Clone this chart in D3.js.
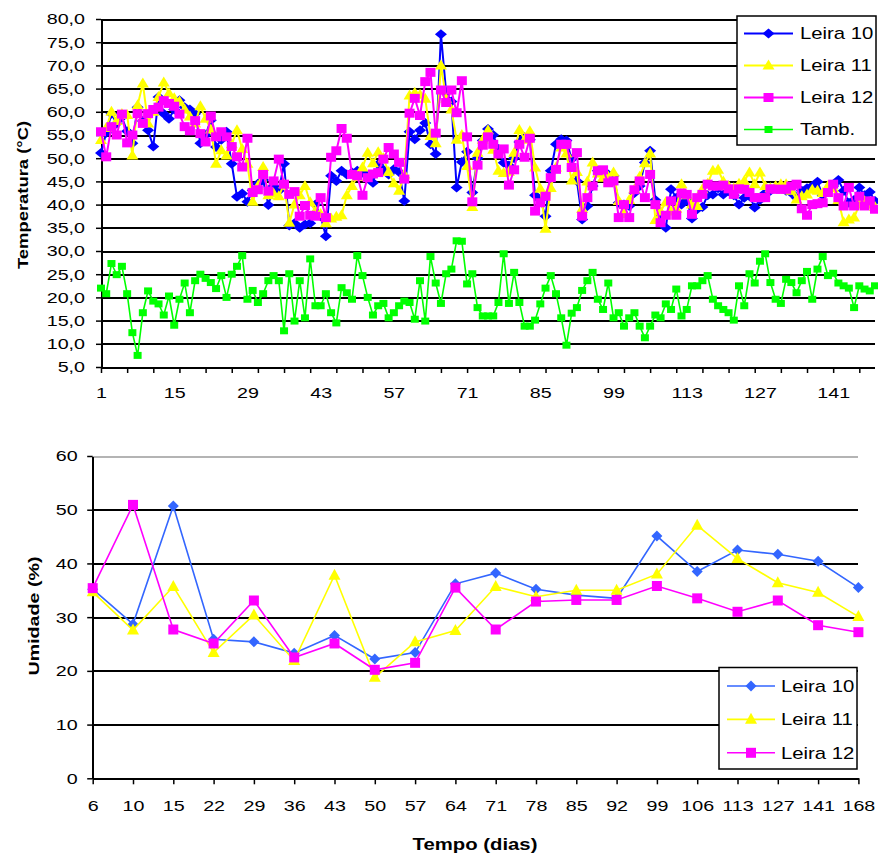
<!DOCTYPE html>
<html>
<head>
<meta charset="utf-8">
<script src="https://cdn.jsdelivr.net/npm/d3@7"></script>
<style>
body { margin: 0; background: #fff; }
svg { display: block; }
</style>
</head>
<body>
<svg width="878" height="855"></svg>
<script>
// ---- temperature (top chart), one value per day ----
var leira10Temp = [51.1,55.5,59.6,57.5,58.8,55.8,53.2,61.0,58.0,56.0, 52.5,63.2,59.6,58.5,60.5,62.5,61.0,60.5,59.6,53.2,
  55.0,58.2,52.4,54.0,55.7,48.8,41.7,42.4,40.6,43.1, 44.5,45.3,39.9,44.0,43.0,48.8,35.5,36.0,35.0,35.7,
  36.0,40.0,37.5,33.2,46.2,45.1,47.3,46.5,46.9,47.3, 47.0,46.0,44.7,48.7,47.5,46.5,47.6,47.0,40.8,55.7,
  54.1,56.0,57.6,53.0,50.9,76.7,64.2,62.2,43.7,49.2, 51.4,42.6,50.0,53.8,56.3,55.0,52.0,49.0,48.4,50.0,
  53.5,54.5,54.0,42.0,41.0,37.5,47.3,53.0,54.1,53.8, 49.8,45.1,36.8,39.7,44.0,47.3,47.0,46.5,46.2,40.4,
  40.0,39.7,42.5,44.0,49.1,51.6,41.0,37.5,35.0,43.3, 41.5,40.0,41.0,37.0,39.0,39.5,42.0,42.2,43.5,42.2,
  43.0,42.0,40.0,41.5,41.8,39.4,41.0,42.5,43.0,43.5, 43.5,43.0,42.5,41.5,43.0,43.5,44.0,44.9,42.0,43.0,
  44.0,45.3,43.0,40.4,41.0,43.7,42.0,42.7,40.8];
var leira11Temp = [53.9,56.5,60.0,58.0,59.5,59.3,50.6,61.4,66.1,57.5, 60.0,63.2,66.3,64.0,62.9,62.2,60.5,59.0,57.5,61.2,
  58.5,56.2,48.8,51.7,50.6,53.0,56.0,52.0,48.8,40.6, 44.0,48.1,42.0,42.4,41.8,44.4,36.1,40.0,42.0,44.0,
  40.5,38.6,38.0,36.0,37.0,37.4,37.7,42.0,44.0,46.0, 48.0,51.2,48.9,51.3,50.0,47.0,44.6,43.0,46.5,63.5,
  64.1,63.7,62.8,54.8,53.2,70.0,62.8,60.5,54.0,55.0, 48.3,39.5,51.2,54.0,56.0,51.8,47.3,46.8,47.1,51.2,
  56.1,54.0,55.8,48.0,43.4,34.8,43.6,48.0,52.3,51.0, 45.2,47.0,39.1,45.0,49.1,46.7,45.8,46.0,46.9,40.8,
  38.0,41.0,43.3,46.0,48.9,51.0,36.7,38.5,40.5,38.5, 39.1,44.4,42.0,40.0,39.7,43.3,44.5,47.3,47.5,45.0,
  44.0,43.5,44.5,45.1,46.9,44.4,46.9,44.0,43.5,44.0, 44.4,44.4,43.0,41.1,41.8,42.2,43.2,43.0,42.5,44.0,
  43.5,41.0,36.2,36.8,37.2,40.0,40.7,40.0,39.5];
var leira12Temp = [55.7,50.3,56.8,55.0,59.5,53.3,55.0,59.6,57.5,59.6, 60.5,61.0,62.4,61.8,61.2,59.5,56.8,55.9,58.1,55.3,
  53.5,59.1,54.6,55.7,54.6,52.5,50.3,48.1,54.3,42.6, 43.2,46.5,42.9,45.1,49.8,44.4,42.2,42.8,37.5,39.8,
  37.7,37.5,41.5,37.2,50.2,51.6,56.4,54.3,46.5,46.2, 42.0,45.8,46.6,46.9,49.8,52.3,50.9,49.1,45.5,59.7,
  62.9,59.2,66.5,68.5,55.4,64.7,62.0,64.7,59.8,66.7, 54.6,40.6,48.5,52.8,54.6,53.0,50.9,52.0,44.2,47.5,
  53.0,50.2,54.3,38.6,40.4,41.8,45.8,47.6,53.0,53.0, 48.0,51.2,37.5,41.5,44.0,47.3,47.5,44.7,45.1,37.2,
  40.0,37.2,43.2,45.1,41.5,46.5,40.0,36.1,37.7,40.8, 37.7,42.5,42.2,37.9,41.5,42.2,44.4,44.0,44.0,44.2,
  43.4,42.2,43.4,43.3,42.6,41.5,41.5,41.5,43.4,43.3, 43.3,43.3,44.0,44.4,39.1,37.7,40.0,40.2,40.4,42.6,
  44.4,41.5,39.7,43.7,39.7,41.8,39.7,40.8,39.0];
var tAmb = [22.0,20.8,27.3,24.9,26.7,20.8,12.4,7.5,16.7,21.4, 19.2,18.6,16.2,20.3,14.0,19.6,23.1,16.7,23.6,25.0,
  24.1,23.2,21.9,24.7,20.0,25.0,26.7,29.0,19.6,21.5, 18.9,20.8,23.6,24.7,23.6,12.8,25.1,14.9,23.6,15.6,
  28.3,18.2,18.2,20.8,16.7,14.5,22.1,21.0,19.6,29.0, 24.7,20.0,16.2,18.2,18.7,15.6,16.7,18.2,19.2,18.9,
  15.3,23.6,14.9,28.8,23.1,18.7,25.1,26.1,32.2,32.1, 22.9,25.1,17.8,16.0,16.0,16.0,18.9,29.4,18.7,25.4,
  18.9,13.8,13.8,15.1,18.6,22.0,24.7,20.8,15.6,9.7, 16.6,17.8,21.5,23.6,25.4,19.6,17.4,23.1,15.6,16.7,
  13.8,15.6,16.7,13.8,11.3,13.8,16.2,15.6,18.6,17.4, 21.8,16.0,17.4,22.5,22.5,23.6,24.7,19.6,18.2,17.4,
  16.7,15.1,22.5,18.2,25.1,23.1,27.8,29.4,23.2,19.6, 18.7,23.9,23.2,21.0,23.6,25.6,19.6,26.1,28.8,24.7,
  25.2,23.1,22.5,22.0,17.8,22.5,21.8,21.4,22.5];
var tempTicks = [5,10,15,20,25,30,35,40,45,50,55,60,65,70,75,80];
var dayTickMarks = [1,6,11,16,21,26,31,36,41,46,51,56,61,66,71,76,81,86,91,96,101,106,111,116,121,126,131,136,141,146];
var dayTickLabels = [1,15,29,43,57,71,85,99,113,127,141];

// ---- moisture (bottom chart) ----
var humDays = ["6","10","15","22","29","36","43","50","57","64","71","78","85","92","99","106","113","127","141","168"];
var leira10Hum = [35.2,28.7,50.7,25.9,25.4,23.3,26.6,22.2,23.4,36.2,38.2,35.2,34.1,33.5,45.1,38.5,42.5,41.7,40.4,35.5];
var leira11Hum = [34.7,27.6,35.7,23.4,30.4,21.9,37.8,18.8,25.4,27.5,35.7,33.8,35.0,35.0,38.0,47.1,40.9,36.4,34.6,30.1];
var leira12Hum = [35.4,50.9,27.7,25.1,33.1,22.5,25.1,20.2,21.5,35.5,27.7,32.9,33.2,33.2,35.8,33.5,31.0,33.1,28.5,27.2];
var humTicks = [0,10,20,30,40,50,60];

var FONT = "'Liberation Sans', Arial, sans-serif";
var SX = 1.27; // the lettering of the original is drawn wide

var svg = d3.select("svg");

// marker outlines
function diamond(w, h) { return "M0," + (-h / 2) + "L" + (w / 2) + ",0L0," + (h / 2) + "L" + (-w / 2) + ",0Z"; }
function square(w, h) { return "M" + (-w / 2) + "," + (-h / 2) + "h" + w + "v" + h + "h" + (-w) + "Z"; }
function triangle(w, h) { return "M0," + (-h * 0.6) + "L" + (w / 2) + "," + (h * 0.4) + "L" + (-w / 2) + "," + (h * 0.4) + "Z"; }

// stretch axis text sideways around its anchor
function widen(sel) {
  sel.attr("transform", function() {
    var x = +this.getAttribute("x") || 0;
    return "translate(" + x + ",0) scale(" + SX + ",1) translate(" + (-x) + ",0)";
  });
}
function styleAxis(g, size) {
  g.attr("font-family", FONT).attr("font-size", size);
  g.selectAll("line").attr("stroke", "#000").attr("stroke-width", 1.5);
  g.select(".domain").attr("stroke", "#000").attr("stroke-width", 2).attr("shape-rendering", "crispEdges");
  g.selectAll("text").attr("fill", "#000").call(widen);
}
var fmtComma = function(d) { return d3.format(".1f")(d).replace(".", ","); };

// ================= top chart: temperatura =================
var xT = d3.scaleLinear().domain([1, tAmb.length]).range([101, 875]);
var yT = d3.scaleLinear().domain([5, 80]).range([367, 19]);

svg.append("g").attr("transform", "translate(101,0)")
    .call(d3.axisLeft(yT).tickValues(tempTicks).tickSize(-(875 - 101)).tickFormat(""))
    .call(function(g) { g.select(".domain").remove(); })
    .selectAll("line").attr("stroke", "#000").attr("stroke-width", 2).attr("shape-rendering", "crispEdges");

svg.append("g").attr("transform", "translate(101,0)")
    .call(d3.axisLeft(yT).tickValues(tempTicks).tickSize(5).tickSizeOuter(0).tickPadding(11).tickFormat(fmtComma))
    .call(styleAxis, 15.5);

svg.append("g").attr("transform", "translate(0,367)")
    .call(d3.axisBottom(xT).tickValues(dayTickMarks).tickSize(6).tickSizeOuter(0).tickFormat(""))
    .call(function(g) { g.select(".domain").remove(); })
    .selectAll("line").attr("stroke", "#000").attr("stroke-width", 1.5);

svg.append("g").attr("transform", "translate(0,367)")
    .call(d3.axisBottom(xT).tickValues(dayTickLabels).tickSize(0).tickPadding(20).tickFormat(d3.format("d")))
    .call(function(g) { g.select(".domain").remove(); })
    .call(styleAxis, 15.5);

svg.append("text")
    .attr("transform", "translate(23,195) rotate(-90) scale(" + SX + ",1)")
    .attr("text-anchor", "middle").attr("dy", "0.35em")
    .attr("font-family", FONT).attr("font-size", 14.5).attr("font-weight", "bold")
    .text("Temperatura (°C)");

var topSeries = [
  {name: "Leira 10", values: leira10Temp, color: "#0000ff", width: 2, shape: diamond(12, 10)},
  {name: "Leira 11", values: leira11Temp, color: "#ffff00", width: 2, shape: triangle(12, 10)},
  {name: "Leira 12", values: leira12Temp, color: "#ff00ff", width: 2, shape: square(10, 9)},
  {name: "Tamb.", values: tAmb, color: "#00ff00", width: 1.6, shape: square(8, 7)}
];

var lineT = d3.line().x(function(d, i) { return xT(i + 1); }).y(function(d) { return yT(d); });

topSeries.forEach(function(s) {
  var g = svg.append("g");
  g.append("path").attr("d", lineT(s.values))
      .attr("fill", "none").attr("stroke", s.color).attr("stroke-width", s.width);
  g.selectAll("path.m").data(s.values).enter().append("path").attr("class", "m")
      .attr("d", s.shape)
      .attr("transform", function(d, i) { return "translate(" + xT(i + 1) + "," + yT(d) + ")"; })
      .attr("fill", s.color);
});

// legend (top)
var legT = svg.append("g");
legT.append("rect").attr("x", 737).attr("y", 16).attr("width", 139).attr("height", 129)
    .attr("fill", "#fff").attr("stroke", "#000").attr("stroke-width", 1.5);
topSeries.forEach(function(s, i) {
  var y = 33.5 + i * 32;
  legT.append("line").attr("x1", 744).attr("x2", 793).attr("y1", y).attr("y2", y)
      .attr("stroke", s.color).attr("stroke-width", s.width);
  legT.append("path").attr("d", s.shape).attr("transform", "translate(768.5," + y + ")").attr("fill", s.color);
  legT.append("text").attr("x", 800).attr("y", y).attr("dy", "0.36em")
      .attr("font-family", FONT).attr("font-size", 16)
      .attr("transform", "translate(800,0) scale(" + SX + ",1) translate(-800,0)")
      .text(s.name);
});

// ================= bottom chart: umidade =================
var xB = d3.scalePoint().domain(humDays).range([92.7, 858.4]);
var yB = d3.scaleLinear().domain([0, 60]).range([778.3, 456]);

svg.append("g").attr("transform", "translate(92.7,0)")
    .call(d3.axisLeft(yB).tickValues(humTicks.slice(1)).tickSize(-(858.4 - 92.7)).tickFormat(""))
    .call(function(g) { g.select(".domain").remove(); })
    .selectAll("line")
    .attr("stroke", function(d) { return d === 60 ? "#b4b4b4" : "#000"; })
    .attr("stroke-width", 2).attr("shape-rendering", "crispEdges");

svg.append("g").attr("transform", "translate(92.7,0)")
    .call(d3.axisLeft(yB).tickValues(humTicks).tickSize(5.5).tickSizeOuter(0).tickPadding(9.5))
    .call(styleAxis, 15.5);

svg.append("g").attr("transform", "translate(0,778.3)")
    .call(d3.axisBottom(xB).tickSize(6).tickSizeOuter(0).tickPadding(16))
    .call(styleAxis, 15.5);

svg.append("text")
    .attr("transform", "translate(475,844) scale(" + SX + ",1)")
    .attr("text-anchor", "middle").attr("dy", "0.35em")
    .attr("font-family", FONT).attr("font-size", 16).attr("font-weight", "bold")
    .text("Tempo (dias)");

svg.append("text")
    .attr("transform", "translate(34,616) rotate(-90) scale(" + SX + ",1)")
    .attr("text-anchor", "middle").attr("dy", "0.35em")
    .attr("font-family", FONT).attr("font-size", 15.5).attr("font-weight", "bold")
    .text("Umidade (%)");

var botSeries = [
  {name: "Leira 10", values: leira10Hum, color: "#3366ff", shape: diamond(11, 11)},
  {name: "Leira 11", values: leira11Hum, color: "#ffff00", shape: triangle(12, 11)},
  {name: "Leira 12", values: leira12Hum, color: "#ff00ff", shape: square(10, 10)}
];

var lineB = d3.line().x(function(d, i) { return xB(humDays[i]); }).y(function(d) { return yB(d); });

botSeries.forEach(function(s) {
  var g = svg.append("g");
  g.append("path").attr("d", lineB(s.values))
      .attr("fill", "none").attr("stroke", s.color).attr("stroke-width", 1.6);
  g.selectAll("path.m").data(s.values).enter().append("path").attr("class", "m")
      .attr("d", s.shape)
      .attr("transform", function(d, i) { return "translate(" + xB(humDays[i]) + "," + yB(d) + ")"; })
      .attr("fill", s.color);
});

// legend (bottom)
var legB = svg.append("g");
legB.append("rect").attr("x", 719).attr("y", 667.5).attr("width", 138).attr("height", 101.5)
    .attr("fill", "#fff").attr("stroke", "#000").attr("stroke-width", 1.5);
botSeries.forEach(function(s, i) {
  var y = 686 + i * 33.4;
  legB.append("line").attr("x1", 727).attr("x2", 775).attr("y1", y).attr("y2", y)
      .attr("stroke", s.color).attr("stroke-width", 1.6);
  legB.append("path").attr("d", s.shape).attr("transform", "translate(751," + y + ")").attr("fill", s.color);
  legB.append("text").attr("x", 781).attr("y", y).attr("dy", "0.36em")
      .attr("font-family", FONT).attr("font-size", 16)
      .attr("transform", "translate(781,0) scale(" + SX + ",1) translate(-781,0)")
      .text(s.name);
});
</script>
</body>
</html>
